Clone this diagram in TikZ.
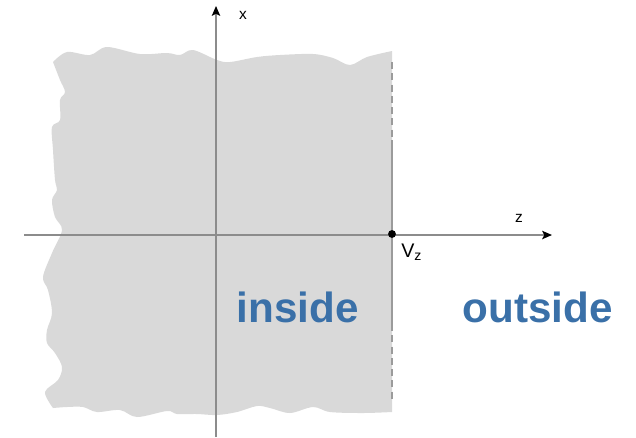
\documentclass[tikz,border=0pt]{standalone}
\usepackage{fontspec}
\setmainfont{Liberation Sans}
\usepackage{tikz}
\usetikzlibrary{arrows,arrows.meta}
\usetikzlibrary{calc}
\definecolor{region}{RGB}{217,217,217}
\definecolor{rand}{RGB}{155,155,155}
\definecolor{achse}{RGB}{140,140,140}
\definecolor{schrift}{RGB}{58,112,168}
\tikzset{>={Stealth[length=7pt,width=6pt,inset=1.5pt,black]}}
\tikzset{achsenlinie/.style={draw=achse, line width=1pt}}
\tikzset{randlinie/.style={draw=rand, line width=1.6pt}}
\tikzset{bereich/.style={font=\bfseries\fontsize{30}{30}\selectfont, text=schrift, inner sep=0pt}}

\begin{document}
\begin{tikzpicture}[x=0.025cm, y=-0.025cm]

	\useasboundingbox (0,0) rectangle (636,437);

	% medium region with rough edges
	\fill[region] (392,51) -- (392,412)
		-- plot[smooth, tension=0.55] coordinates {(392,412) (363,413) (330,412) (313,407) (290,413) (270,408) (257,406) (237,412) (217,415) (197,414) (177,414) (167,411) (137,417) (120,410) (97,412) (83,407) (67,407) (53,408)}
		-- plot[smooth, tension=0.55] coordinates {(53,408) (45,392) (58,380) (62,367) (55,353) (47,343) (47,330) (52,313) (48,290) (43,277) (52,253) (62,230) (55,217) (52,200) (57,190) (55,180) (53,150) (52,127) (60,120) (60,100) (65,92) (60,80) (53,62)}
		-- plot[smooth, tension=0.55] coordinates {(53,62) (67,52) (90,55) (107,47) (140,54) (167,53) (180,55) (193,50) (217,60) (230,62) (257,57) (280,55) (313,54) (333,58) (350,65) (367,57) (392,51)}
		-- cycle;

	% boundary surface
	\coordinate (rO) at (392,62);
	\coordinate (rA) at (392,140);
	\coordinate (rB) at (392,324);
	\coordinate (rU) at (392,402);
	\draw[randlinie, dash pattern=on 5pt off 3pt] (rO) -- (rA);
	\draw[randlinie] (rA) -- (rB);
	\draw[randlinie, dash pattern=on 5pt off 3pt] (rB) -- (rU);

	% axes
	\coordinate (xU) at (216,437);
	\coordinate (xO) at (216,6);
	\coordinate (zL) at (24,235);
	\coordinate (zR) at (552,235);
	\draw[achsenlinie, ->] (xU) -- (xO);
	\draw[achsenlinie, ->] (zL) -- (zR);

	\node[anchor=base, font=\fontsize{11}{11}\selectfont, inner sep=0pt] (xlabel) at (243,19) {x};
	\node[anchor=base, font=\fontsize{11}{11}\selectfont, inner sep=0pt] (zlabel) at (519,222) {z};

	% vertex
	\coordinate (vz) at (392,234);
	\fill[black] (vz) circle (2.8pt);
	\node[anchor=base west, font=\fontsize{14}{14}\selectfont, inner sep=0pt] (vzlabel) at (401,257) {V\raisebox{-0.3ex}{\fontsize{10}{10}\selectfont z}};

	\node[bereich, anchor=base] (inside) at (297.5,322) {inside};
	\node[bereich, anchor=base] (outside) at (537.5,322) {outside};
\end{tikzpicture}
\end{document}
